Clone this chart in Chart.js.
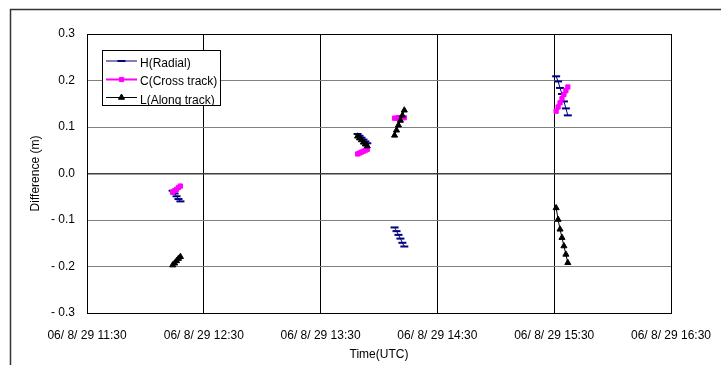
<!DOCTYPE html>
<html>
<head>
<meta charset="utf-8">
<script src="https://cdn.jsdelivr.net/npm/chart.js@4/dist/chart.umd.min.js"></script>
<style>
  html, body { margin: 0; padding: 0; background: #fff; }
  canvas { display: block; }
</style>
</head>
<body>
<canvas id="c" width="721" height="365"></canvas>
<script>
// ---- data ----
const times = [
  "12:14","12:15","12:16","12:17","12:18", null,
  "13:49","13:50","13:51","13:52","13:53","13:54", null,
  "14:08","14:09","14:10","14:11","14:12","14:13", null,
  "15:31","15:32","15:33","15:34","15:35","15:36","15:37"
];
const radialH = [
  -0.037,-0.043,-0.049,-0.055,-0.060, null,
  0.085,0.081,0.077,0.073,0.069,0.065, null,
  -0.116,-0.124,-0.132,-0.140,-0.149,-0.157, null,
  0.209,0.198,0.184,0.171,0.155,0.140,0.125
];
const crossC = [
  -0.040,-0.037,-0.034,-0.030,-0.027, null,
  0.042,0.044,0.046,0.048,0.050,0.052, null,
  0.119,0.119,0.120,0.120,0.120,0.120, null,
  0.134,0.143,0.152,0.161,0.170,0.178,0.186
];
const alongL = [
  -0.197,-0.193,-0.188,-0.183,-0.179, null,
  0.080,0.076,0.072,0.067,0.063,0.059, null,
  0.082,0.093,0.104,0.114,0.125,0.136, null,
  -0.074,-0.099,-0.120,-0.138,-0.156,-0.174,-0.192
];
const seriesNames = ["H(Radial)", "C(Cross track)", "L(Along track)"];
const xTickLabels = ["06/ 8/ 29 11:30","06/ 8/ 29 12:30","06/ 8/ 29 13:30","06/ 8/ 29 14:30","06/ 8/ 29 15:30","06/ 8/ 29 16:30"];
const yTickLabels = ["- 0.3","- 0.2","- 0.1","0.0","0.1","0.2","0.3"];
const xStart = "11:30";

// ---- build points ----
function toMin(t) { const [h, m] = t.split(":").map(Number); return h * 60 + m; }
const base = toMin(xStart);
function build(values) {
  const pts = [];
  let lastX = 0;
  for (let i = 0; i < times.length; i++) {
    if (times[i] === null) { pts.push({x: lastX + 1, y: null}); continue; }
    lastX = toMin(times[i]) - base;
    pts.push({x: lastX, y: values[i]});
  }
  return pts;
}

const FONT = "'Liberation Sans', Arial, sans-serif";

const styles = [
  {color: '#000080', pointStyle: 'line', radius: 4, lw: 1, pbw: 2, order: 3},
  {color: '#FF00FF', pointStyle: 'rect', radius: 3, lw: 2, pbw: 1, order: 2},
  {color: '#000000', pointStyle: 'triangle', radius: 3.5, lw: 1, pbw: 1, order: 1}
];
const allValues = [radialH, crossC, alongL];

const datasets = allValues.map((vals, i) => ({
  label: seriesNames[i],
  data: build(vals),
  borderColor: styles[i].color,
  backgroundColor: styles[i].color,
  borderWidth: styles[i].lw,
  pointStyle: styles[i].pointStyle,
  pointRadius: styles[i].radius,
  pointBorderWidth: styles[i].pbw,
  pointBackgroundColor: styles[i].color,
  pointBorderColor: styles[i].color,
  spanGaps: false,
  tension: 0,
  order: styles[i].order
}));

const framePlugin = {
  id: 'frame',
  beforeDraw(chart) {
    const ctx = chart.ctx;
    ctx.save();
    ctx.fillStyle = '#fff';
    ctx.fillRect(0, 0, chart.width, chart.height);
    ctx.restore();
  },
  afterDraw(chart) {
    const ctx = chart.ctx;
    const a = chart.chartArea;
    ctx.save();
    // plot border
    ctx.strokeStyle = '#000';
    ctx.lineWidth = 1;
    ctx.strokeRect(Math.round(a.left) + 0.5, Math.round(a.top) + 0.5,
                   Math.round(a.right - a.left), Math.round(a.bottom - a.top));
    // outer frame
    ctx.strokeStyle = '#333';
    ctx.lineWidth = 1.5;
    ctx.strokeRect(10.5, 9.5, 730, 380);

    // legend
    const bx = 102, by = 50, bw = 118, bh = 55;
    ctx.fillStyle = '#fff';
    ctx.fillRect(bx, by, bw, bh);
    ctx.save();
    ctx.beginPath();
    ctx.rect(bx, by, bw, bh);
    ctx.clip();
    const rowsLine = [61, 79.5, 97.5];
    const rowsText = [63.5, 82, 100.5];
    ctx.font = '12px ' + FONT;
    ctx.textBaseline = 'middle';
    ctx.textAlign = 'left';
    chart.data.datasets.forEach((ds, i) => {
      const y = rowsLine[i];
      ctx.strokeStyle = ds.borderColor;
      ctx.lineWidth = ds.borderWidth;
      ctx.beginPath();
      ctx.moveTo(106, y);
      ctx.lineTo(137, y);
      ctx.stroke();
      ctx.fillStyle = ds.pointBackgroundColor;
      ctx.strokeStyle = ds.pointBorderColor;
      ctx.lineWidth = ds.pointBorderWidth;
      Chart.helpers.drawPoint(ctx, {pointStyle: ds.pointStyle, radius: ds.pointRadius, rotation: 0, borderWidth: ds.pointBorderWidth}, 121.5, y);
      ctx.fillStyle = '#000';
      ctx.fillText(ds.label, 140, rowsText[i]);
    });
    ctx.restore();
    ctx.strokeStyle = '#000';
    ctx.lineWidth = 1;
    ctx.strokeRect(bx + 0.5, by + 0.5, bw, bh);
    ctx.restore();
  }
};

new Chart(document.getElementById('c'), {
  type: 'line',
  data: { datasets },
  options: {
    responsive: false,
    animation: false,
    devicePixelRatio: 1,
    layout: { padding: { left: 0, right: 50, top: 34, bottom: 0 } },
    plugins: { legend: { display: false }, tooltip: { enabled: false } },
    scales: {
      x: {
        type: 'linear',
        min: 0, max: 300,
        afterFit(s) { s.height = 52; s.paddingLeft = 0; s.paddingRight = 0; },
        ticks: {
          stepSize: 60,
          autoSkip: false,
          maxRotation: 0,
          padding: 15,
          color: '#000',
          font: { family: FONT, size: 12 },
          callback: (v) => xTickLabels[Math.round(v / 60)]
        },
        grid: { color: '#000', lineWidth: 1, drawTicks: false },
        border: { display: false },
        title: {
          display: true, text: 'Time(UTC)', color: '#000',
          font: { family: FONT, size: 12 },
          padding: { top: 0, bottom: 3 }
        }
      },
      y: {
        min: -0.3, max: 0.3,
        afterFit(s) { s.width = 87; s.paddingTop = 0; s.paddingBottom = 0; },
        ticks: {
          stepSize: 0.1,
          padding: 12,
          color: '#000',
          font: { family: FONT, size: 12 },
          callback: (v, i) => yTickLabels[i]
        },
        grid: {
          drawTicks: false,
          color: (c) => (c.tick && Math.abs(c.tick.value) < 1e-9) ? '#404040' : '#808080',
          lineWidth: (c) => (c.tick && Math.abs(c.tick.value) < 1e-9) ? 1.5 : 1
        },
        border: { display: false },
        title: {
          display: true, text: 'Difference (m)', color: '#000',
          font: { family: FONT, size: 12 },
          padding: { top: 28, bottom: 0 }
        }
      }
    }
  },
  plugins: [framePlugin]
});
</script>
</body>
</html>
